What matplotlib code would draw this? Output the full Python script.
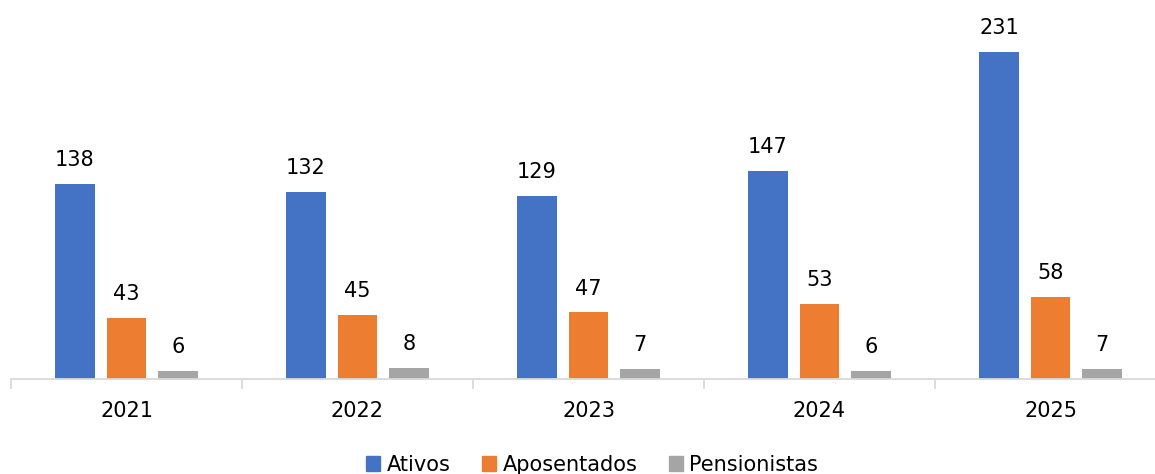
import matplotlib
matplotlib.use("Agg")
import matplotlib.pyplot as plt
import numpy as np

years = ["2021", "2022", "2023", "2024", "2025"]
ativos = [138, 132, 129, 147, 231]
aposentados = [43, 45, 47, 53, 58]
pensionistas = [6, 8, 7, 6, 7]
series_names = ["Ativos", "Aposentados", "Pensionistas"]
colors = ["#4472C4", "#ED7D31", "#A5A5A5"]

plt.rcParams['font.family'] = ['DejaVu Sans']

W, H = 1155, 474
fig = plt.figure(figsize=(W / 100, H / 100), dpi=100)
ax = fig.add_axes([11 / W, 95 / H, 1155 / W, 354 / H])

x = np.arange(len(years))
bw = 0.173
offsets = [-0.223, 0.0, 0.223]
for vals, off, c, name in zip([ativos, aposentados, pensionistas], offsets, colors, series_names):
    bars = ax.bar(x + off, vals, width=bw, color=c, label=name, zorder=2)
    for b, v in zip(bars, vals):
        ax.annotate(str(v), (b.get_x() + b.get_width() / 2, v), xytext=(0, 10),
                    textcoords="offset points", ha="center", va="bottom",
                    fontsize=15, color="black")

ax.set_xlim(-0.5, len(years) - 0.5)
ax.set_ylim(0, 250)
for s in ["top", "right", "left"]:
    ax.spines[s].set_visible(False)
ax.spines["bottom"].set_color("#D9D9D9")
ax.spines["bottom"].set_linewidth(1.3)
ax.set_yticks([])
ax.set_xticks(np.arange(-0.5, len(years) + 0.5, 1.0))
ax.set_xticklabels([])
ax.set_xticks(x, minor=True)
ax.set_xticklabels(years, minor=True, fontsize=15)
ax.tick_params(axis="x", which="major", length=7, color="#D9D9D9", width=1.3, direction="out")
ax.tick_params(axis="x", which="minor", length=0, pad=16)

handles = [plt.Rectangle((0, 0), 1, 1, color=c) for c in colors]
fig.legend(handles, series_names, loc="center", bbox_to_anchor=(592 / W, 1 - 465 / H),
           ncol=3, frameon=False, fontsize=15, handlelength=0.7, handleheight=0.7,
           handletextpad=0.3, columnspacing=1.5)

fig.savefig("out.png", dpi=100)
